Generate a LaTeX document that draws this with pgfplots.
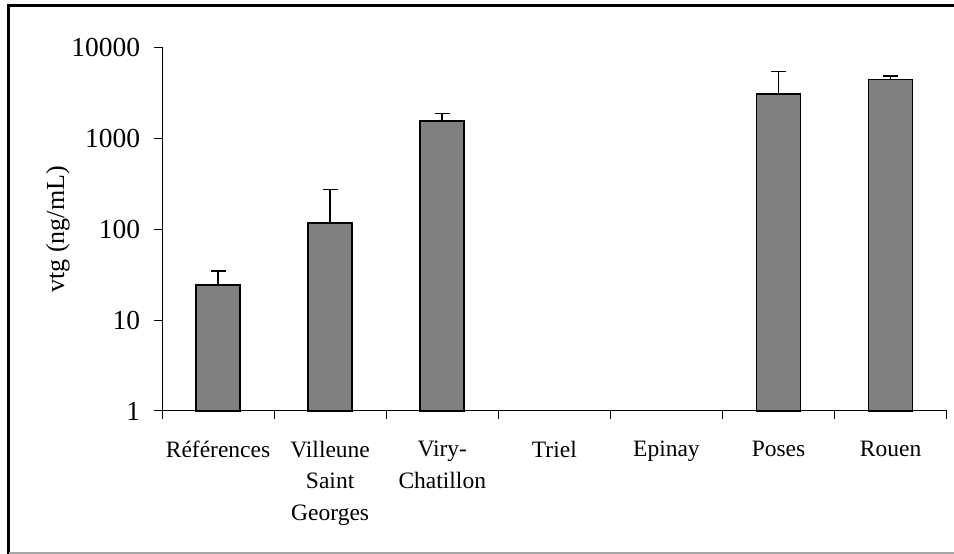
\documentclass[border=0pt]{standalone}
\usepackage{fontspec}
\setmainfont{Liberation Serif}
\usepackage{pgfplots}
\pgfplotsset{compat=1.18}
\newcommand\Y[1]{\mbox{\fontsize{27.5}{31}\selectfont #1}}
\begin{document}
\fontsize{23}{31.7}\selectfont
\begin{tikzpicture}[x=1pt,y=1pt]
\useasboundingbox (0,0) rectangle (954,554);
\draw[line width=2.5pt] (8.5,0) -- (8.5,548.5) -- (954,548.5);
\draw[black!35, line width=1.5pt] (8.5,0.75) -- (954,0.75);
\begin{axis}[
  at={(162pt,143pt)}, anchor=origin,
  scale only axis, width=784.7pt, height=363.5pt,
  ymode=log, ymin=1, ymax=10000, xmin=0, xmax=7,
  axis x line*=bottom, axis y line*=left,
  axis line style={black, line width=1pt},
  ytick={1,10,100,1000,10000},
  yticklabels={\Y{1},\Y{10},\Y{100},\Y{1000},\Y{10000}},
  yminorticks=false,
  tick align=outside, major tick length=8pt,
  every tick/.style={black, line width=1pt},
  xtick={0.5,1.5,2.5,3.5,4.5,5.5,6.5},
  xticklabels={Références,{Villeune\\Saint\\Georges},{Viry-\\Chatillon},Triel,Epinay,Poses,Rouen},
  xtick style={draw=none},
  extra x ticks={0,1,2,3,4,5,6,7},
  extra x tick labels={},
  extra x tick style={xtick style={draw=black}},
  xticklabel style={align=center, anchor=north, yshift=-14pt, font=\fontsize{23.5}{31.7}\selectfont},
  yticklabel style={xshift=-6pt},
  ylabel={vtg (ng/mL)},
  ylabel style={font=\fontsize{26}{30}\selectfont, at={(axis description cs:-0.1325,0.5)}, anchor=center},
  /pgf/number format/assume math mode=true,
  clip=false,
]
\addplot[ybar, bar width=44pt, fill=gray, draw=black, line width=1.6pt,
  error bars/.cd, y dir=plus, y explicit,
  error bar style={line width=1.5pt, black},
  error mark options={rotate=90, mark size=7.5pt, line width=1.5pt, black}]
  coordinates {
  (0.5,24.5) +- (0,10.2)
  (1.5,117) +- (0,158)
  (2.5,1550) +- (0,334)
  (5.5,3095) +- (0,2365)
  (6.5,4460) +- (0,425)
};
\end{axis}
\end{tikzpicture}
\end{document}
